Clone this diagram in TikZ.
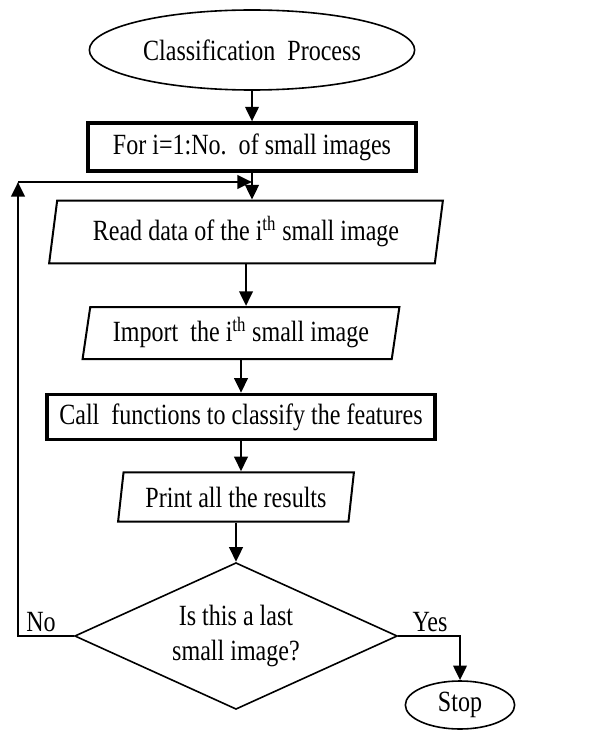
\documentclass[tikz,border=0pt]{standalone}
\usepackage{fontspec}
\setmainfont{Liberation Serif}[FakeStretch=0.82]
\usetikzlibrary{shapes.geometric,arrows.meta}

\begin{document}
\begin{tikzpicture}[x=0.75pt,y=-0.75pt,
        font=\fontsize{22}{26}\selectfont,
        term/.style={draw, ellipse, line width=1.2pt, inner sep=0pt},
        loopbox/.style={draw, rectangle, line width=2.3pt, inner sep=0pt},
        iobox/.style={draw, trapezium, trapezium left angle=78, trapezium right angle=102,
            trapezium stretches=true, line width=1.5pt, inner sep=0pt},
        decide/.style={draw, diamond, aspect=2.2, line width=1.2pt, inner sep=0pt, align=center},
        flow/.style={-{Triangle[length=11pt,width=10pt]}, line width=2.1pt}]
            \useasboundingbox (0,0) rectangle (614,731);
            \node[term, minimum width=244pt, minimum height=60pt] (start) at (252,50) {Classification\ \ Process};
            \node[loopbox, minimum width=246pt, minimum height=36pt] (loop) at (252,147) {For i=1:No.\ \ of small images};
            \node[iobox, minimum width=296pt, minimum height=47pt] (read) at (246,232)
            {Read data of the i\textsuperscript{th} small image};
            \node[iobox, minimum width=238pt, minimum height=39pt] (import) at (241,333)
            {Import\ \ the i\textsuperscript{th} small image};
            \node[loopbox, minimum width=291pt, minimum height=34pt] (call) at (241,417) {Call\ \ functions to classify the features};
            \node[iobox, minimum width=177pt, minimum height=37pt] (print) at (236,497) {Print all the results};
            \node[decide, minimum width=242pt, minimum height=110pt] (check) at (236,636)
            {Is this a last\\small image?};
            \node[term, minimum width=82pt, minimum height=36pt] (stop) at (460,705) {Stop};
            \draw[flow] (start.south) -- (start.south |- loop.north);
            \draw[flow] (loop.south) -- (loop.south |- read.north);
            \draw[flow] (read.south) -- (read.south |- import.north);
            \draw[flow] (import.south) -- (import.south |- call.north);
            \draw[flow] (call.south) -- (call.south |- print.north);
            \draw[flow] (print.south) -- (print.south |- check.north);
            \coordinate (back) at (18,182);
            \draw[flow] (check.west) -| (back);
            \draw[flow] (back) -- (back -| loop.south);
            \draw[flow] (check.east) -| (stop.north);
            \node (no) at (41,622) {No};
            \node (yes) at (430,622) {Yes};
        \end{tikzpicture}
\end{document}
